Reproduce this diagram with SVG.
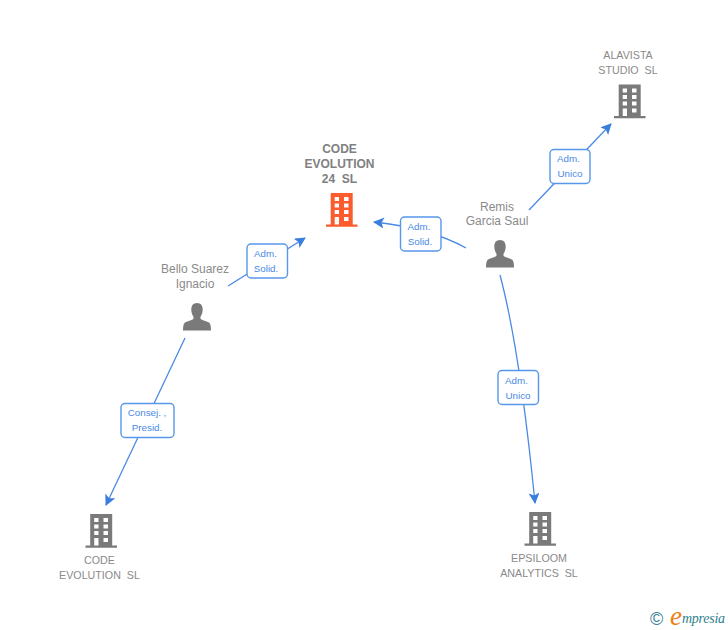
<svg xmlns="http://www.w3.org/2000/svg" width="728" height="630" viewBox="0 0 728 630">
<style>
text{font-family:"Liberation Sans",Arial,sans-serif}
.n{font-size:12px;fill:#8a8a8a;text-anchor:middle}
.c{font-size:10.700px;fill:#8a8a8a;text-anchor:middle}
.b{font-size:12px;fill:#808080;font-weight:bold;text-anchor:middle}
.l{font-size:9.800px;fill:#4a8ae4;text-anchor:middle}
.e{fill:none;stroke:#4a8ae4;stroke-width:1.300}
.box{fill:#fff;stroke:#5796ea;stroke-width:1.400}
</style>
<defs>
<marker id="a" markerWidth="12" markerHeight="12" refX="10" refY="5" orient="auto" markerUnits="userSpaceOnUse"><path d="M0 -.5L11 5L0 10.500L2.500 5Z" fill="#3b7fdc"/></marker>
<path id="bld" fill-rule="evenodd" d="M4.700 0H26.700V31.500H31.500V33.800H0V31.500H4.700ZM8.700 4V8H13V4ZM18 4V8H22.500V4ZM8.700 10.500V14.500H13V10.500ZM18 10.500V14.500H22.500V10.500ZM8.700 17V21H13V17ZM18 17V21H22.500V17ZM8.700 24V31.500H13V24ZM18 24V28H22.500V24Z"/>
<path id="per" d="M14 0C10.200 0 8.300 2.800 8.300 6.500C8.300 9.500 9.200 12 10.500 13.800V15.500C10.500 17 4.500 18 2 19.500C.4 20.500 0 24 0 27.500H28C28 24 27.600 20.500 26 19.500C23.500 18 17.500 17 17.500 15.500V13.800C18.800 12 19.700 9.500 19.700 6.500C19.700 2.800 17.800 0 14 0Z"/>
</defs>
<g id="connectors">
<path class="e" d="M228 286L305 238" marker-end="url(#a)"/>
<path class="e" d="M466 248Q430 228 374 222" marker-end="url(#a)"/>
<path class="e" d="M529 210L611 124" marker-end="url(#a)"/>
<path class="e" d="M500 275Q520 350 535 503" marker-end="url(#a)"/>
<path class="e" d="M185 338L106 505" marker-end="url(#a)"/>
</g>
<g id="node-code-evolution-24">
<text class="b" x="339.500" y="153">CODE</text>
<text class="b" x="339.500" y="168">EVOLUTION</text>
<text class="b" x="339.500" y="183" xml:space="preserve">24  SL</text>
<use href="#bld" x="326" y="193" fill="#fb5c2e"/>
</g>
<g id="node-alavista">
<text class="c" x="628" y="59">ALAVISTA</text>
<text class="c" x="628" y="74" xml:space="preserve">STUDIO  SL</text>
<use href="#bld" x="614" y="84.500" fill="#7a7a7a"/>
</g>
<g id="node-remis">
<text class="n" x="497" y="211">Remis</text>
<text class="n" x="497" y="225">Garcia Saul</text>
<use href="#per" x="486" y="240" fill="#7a7a7a"/>
</g>
<g id="node-bello">
<text class="n" x="195" y="273">Bello Suarez</text>
<text class="n" x="195" y="288">Ignacio</text>
<use href="#per" x="183" y="303" fill="#7a7a7a"/>
</g>
<g id="node-code-evolution">
<use href="#bld" x="85.500" y="514" fill="#7a7a7a"/>
<text class="c" x="99.500" y="564">CODE</text>
<text class="c" x="99.500" y="579" xml:space="preserve">EVOLUTION  SL</text>
</g>
<g id="node-epsiloom">
<use href="#bld" x="524.500" y="512" fill="#7a7a7a"/>
<text class="c" x="539" y="562">EPSILOOM</text>
<text class="c" x="539" y="577" xml:space="preserve">ANALYTICS  SL</text>
</g>
<g id="edge-labels">
<rect class="box" x="247" y="244" width="40.500" height="34" rx="4"/>
<text class="l" x="265.500" y="257">Adm.</text><text class="l" x="266" y="272">Solid.</text>
<rect class="box" x="400.500" y="217" width="40.500" height="34" rx="4"/>
<text class="l" x="419" y="230">Adm.</text><text class="l" x="420" y="245">Solid.</text>
<rect class="box" x="550" y="149.500" width="40" height="34" rx="4"/>
<text class="l" x="568.500" y="162">Adm.</text><text class="l" x="570" y="177">Unico</text>
<rect class="box" x="498" y="370.500" width="40.500" height="34" rx="4"/>
<text class="l" x="516.500" y="384">Adm.</text><text class="l" x="518" y="399">Unico</text>
<rect class="box" x="121" y="403.500" width="53" height="34" rx="4"/>
<text class="l" x="147" y="416">Consej. ,</text><text class="l" x="147" y="431">Presid.</text>
</g>
<g id="logo">
<text x="650" y="625" font-size="18" fill="#3d7f96">©</text>
<text x="670" y="625" font-size="27" font-style="italic" fill="#f08010" style="font-family:'Liberation Serif',serif">e</text>
<text x="682" y="623" font-size="14" font-style="italic" fill="#2f7f8f" style="font-family:'Liberation Serif',serif" textLength="43">mpresia</text>
</g>
</svg>
